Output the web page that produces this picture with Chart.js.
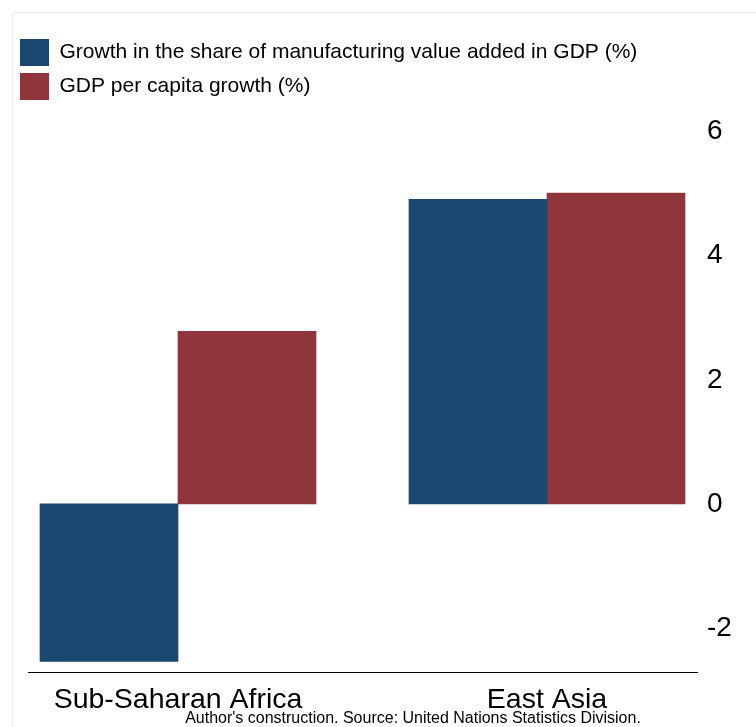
<!DOCTYPE html>
<html>
<head>
<meta charset="utf-8">
<script src="https://cdn.jsdelivr.net/npm/chart.js@4/dist/chart.umd.min.js"></script>
<style>
  html, body { margin: 0; padding: 0; background: #ffffff; }
  #wrap { position: relative; width: 756px; height: 727px; }
</style>
</head>
<body>
<div id="wrap"><canvas id="c" width="756" height="727"></canvas></div>
<script>
// ---- data ----
const categories = ['Sub-Saharan Africa', 'East Asia'];
const seriesNames = [
  'Growth in the share of manufacturing value added in GDP (%)',
  'GDP per capita growth (%)'
];
const manufShareGrowth = [-2.54, 4.91];
const gdpPerCapitaGrowth = [2.78, 5.01];
const yTicks = [-2, 0, 2, 4, 6];
const footNote = "Author's construction. Source: United Nations Statistics Division.";

const FONT = '"Liberation Sans", Arial, Helvetica, sans-serif';
const NAVY = '#1a476f';
const MAROON = '#90353b';

const toPoints = arr => categories.map((c, i) => ({ x: i + 1, y: arr[i] }));

const framePlugin = {
  id: 'frame',
  beforeDraw(chart) {
    const ctx = chart.ctx;
    ctx.save();
    ctx.strokeStyle = '#ebebeb';
    ctx.lineWidth = 1;
    ctx.beginPath();
    ctx.moveTo(12.5, chart.height);
    ctx.lineTo(12.5, 12.5);
    ctx.lineTo(chart.width, 12.5);
    ctx.stroke();
    ctx.restore();
  },
  afterDraw(chart) {
    const ctx = chart.ctx;
    ctx.save();
    ctx.font = '16px ' + FONT;
    ctx.fillStyle = '#000';
    ctx.textAlign = 'center';
    ctx.textBaseline = 'alphabetic';
    ctx.fillText(footNote, 413, 723);
    ctx.restore();
  }
};

new Chart(document.getElementById('c'), {
  type: 'bar',
  data: {
    datasets: [
      { label: seriesNames[0], data: toPoints(manufShareGrowth), backgroundColor: NAVY, borderWidth: 0 },
      { label: seriesNames[1], data: toPoints(gdpPerCapitaGrowth), backgroundColor: MAROON, borderWidth: 0 }
    ]
  },
  options: {
    responsive: false,
    animation: false,
    devicePixelRatio: 1,
    barThickness: 138,
    layout: { padding: { left: 13, top: 32, right: 0, bottom: 0 } },
    plugins: {
      legend: {
        position: 'top',
        align: 'start',
        labels: {
          boxWidth: 29,
          boxHeight: 27,
          padding: 7,
          color: '#000',
          font: { family: FONT, size: 21 }
        }
      },
      tooltip: { enabled: false }
    },
    scales: {
      x: {
        type: 'linear',
        offset: false,
        min: 0.5935,
        max: 2.4065,
        grid: { display: false, drawTicks: false },
        border: { display: true, color: '#000', width: 1 },
        afterBuildTicks: s => { s.ticks = categories.map((c, i) => ({ value: i + 1 })); },
        afterFit: s => { s.height = 55; },
        ticks: {
          padding: 11,
          color: '#000',
          font: { family: FONT, size: 28.5 },
          maxRotation: 0,
          autoSkip: false,
          callback: v => categories[Math.round(v) - 1] || ''
        }
      },
      y: {
        position: 'right',
        min: -2.71,
        max: 6.35,
        grid: { display: false, drawTicks: false },
        border: { display: false },
        afterBuildTicks: s => { s.ticks = yTicks.map(v => ({ value: v })); },
        afterFit: s => { s.width = 59; },
        ticks: {
          padding: 10,
          color: '#000',
          font: { family: FONT, size: 28 },
          callback: v => String(v)
        }
      },
      yLeft: {
        position: 'left',
        display: true,
        grid: { display: false, drawTicks: false },
        border: { display: false },
        ticks: { display: false },
        afterFit: s => { s.width = 15; }
      }
    }
  },
  plugins: [framePlugin]
});
</script>
</body>
</html>
